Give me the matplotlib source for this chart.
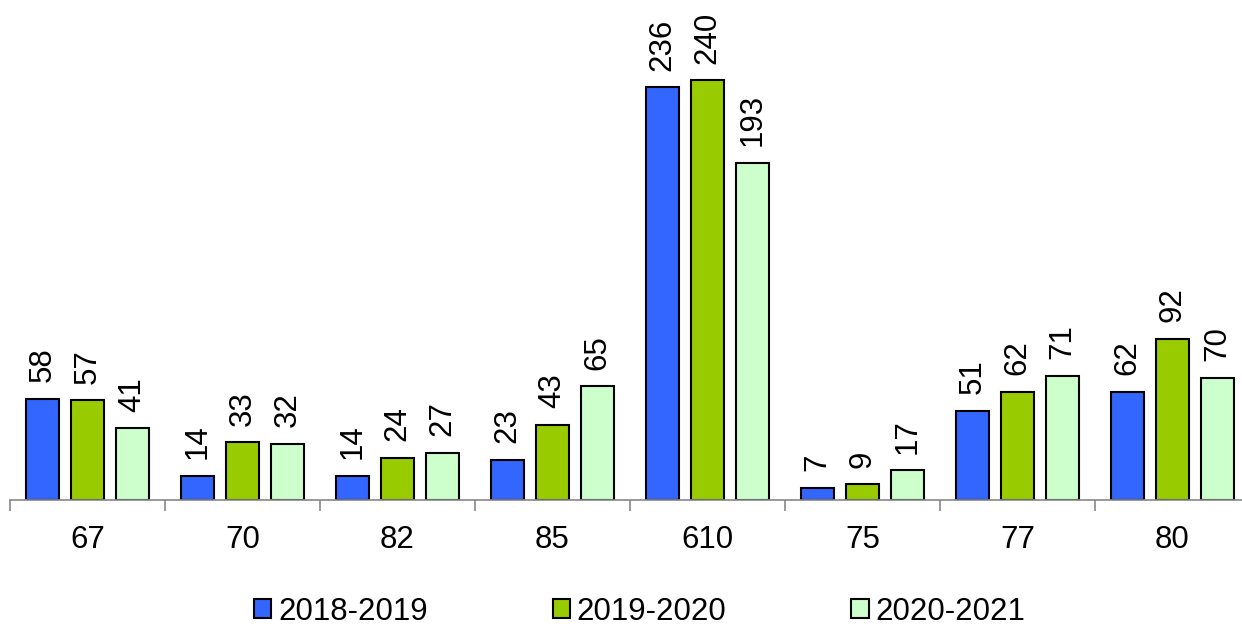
import numpy as np
import matplotlib.pyplot as plt

plt.rcParams['font.family'] = ['Liberation Sans', 'DejaVu Sans']

categories = ['67', '70', '82', '85', '610', '75', '77', '80']
series_names = ['2018-2019', '2019-2020', '2020-2021']
v2018 = [58, 14, 14, 23, 236, 7, 51, 62]
v2019 = [57, 33, 24, 43, 240, 9, 62, 92]
v2020 = [41, 32, 27, 65, 193, 17, 71, 70]
colors = ['#3366FF', '#99CC00', '#CCFFCC']

fig = plt.figure(figsize=(12.42, 6.28), dpi=100)
ax = fig.add_axes([10 / 1242, 128 / 628, 1240 / 1242, 500 / 628])

x = np.arange(len(categories))
width = 0.213
step = 0.29
for i, (vals, name) in enumerate(zip([v2018, v2019, v2020], series_names)):
    pos = x + (i - 1) * step
    ax.bar(pos, vals, width, color=colors[i], edgecolor='black',
           linewidth=1.5, label=name)
    for p, v in zip(pos, vals):
        ax.annotate(str(v), (p, v), xytext=(0, 12), textcoords='offset points',
                    rotation=90, ha='center', va='bottom', fontsize=22.5)

ax.set_xlim(-0.5, len(categories) - 0.5)
ax.set_ylim(0, 286)
ax.set_xticks(x)
ax.set_xticklabels(categories, fontsize=22.5)
ax.set_xticks(np.arange(len(categories)) - 0.5, minor=True)
ax.tick_params(axis='x', which='major', length=0, pad=18)
ax.tick_params(axis='x', which='minor', length=8, color='#888888', width=1.2)
ax.set_yticks([])
for s in ['top', 'right', 'left']:
    ax.spines[s].set_visible(False)
ax.spines['bottom'].set_color('#888888')
ax.spines['bottom'].set_linewidth(1.2)

fig.legend(loc='lower center', bbox_to_anchor=(0.515, -0.043), ncol=3, frameon=False,
           fontsize=22.5, handlelength=0.55, handleheight=0.55, handletextpad=0.22,
           columnspacing=4.0)

fig.savefig('out.png', dpi=100)
